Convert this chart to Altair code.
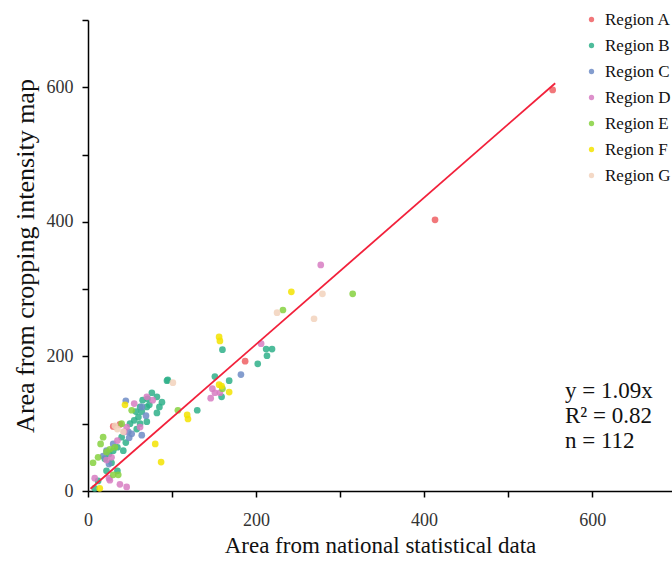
import altair as alt
import pandas as pd

regions = ["Region A", "Region B", "Region C", "Region D", "Region E", "Region F", "Region G"]
colors = ["#ef5f63", "#2fb08a", "#6f8cc6", "#d77cc2", "#86d13f", "#f3e300", "#f2d2bc"]

a_x = [553, 413, 187, 38, 30]
a_y = [596, 403, 193, 99, 96]

b_x = [95, 76, 71, 82, 88, 82, 62, 70, 160, 212, 219, 213, 202, 151, 168, 159, 130, 94, 57, 64,
       60, 55, 50, 62, 58, 70, 40, 45, 35, 30, 42, 25, 20, 28, 35, 8, 12, 65, 73, 85, 22]
b_y = [165, 146, 137, 140, 132, 116, 125, 125, 210, 211, 211, 201, 189, 170, 164, 140, 120, 164, 118, 118,
       110, 105, 100, 100, 92, 103, 80, 72, 65, 60, 60, 55, 48, 42, 30, 4, 15, 135, 128, 125, 30]

c_x = [182, 45, 64, 48, 52, 49, 64, 69, 22, 18, 25, 30]
c_y = [173, 134, 83, 88, 85, 79, 125, 112, 60, 52, 40, 70]

d_x = [277, 206, 148, 151, 146, 157, 70, 77, 46, 43, 62, 8, 25, 26, 38, 46, 22, 28, 35, 55]
d_y = [336, 219, 152, 146, 138, 146, 140, 135, 95, 88, 95, 19, 19, 16, 10, 6, 46, 50, 75, 130]

e_x = [315, 232, 107, 52, 6, 18, 15, 22, 30, 36, 26, 40, 12, 32, 160]
e_y = [293, 269, 120, 120, 42, 80, 70, 58, 24, 24, 62, 100, 50, 65, 152]

f_x = [242, 156, 157, 156, 159, 168, 118, 119, 80, 87, 44, 14]
f_y = [296, 229, 223, 158, 156, 147, 113, 107, 70, 43, 128, 4]

g_x = [269, 279, 101, 32, 35, 225, 42]
g_y = [256, 293, 161, 97, 92, 265, 88]

line_x = [3, 556]
slope = 1.09
annot = ["y = 1.09x", "R\u00b2 = 0.82", "n = 112"]

rows = []
for name, xs, ys in zip(regions, [a_x, b_x, c_x, d_x, e_x, f_x, g_x], [a_y, b_y, c_y, d_y, e_y, f_y, g_y]):
    for xv, yv in zip(xs, ys):
        rows.append({"x": xv, "y": yv, "region": name})
df = pd.DataFrame(rows)

FONT = "Liberation Serif"

x_axis = alt.Axis(values=list(range(0, 701, 100)),
                  labelExpr="datum.value % 200 == 0 ? datum.label : ''",
                  grid=False, domainColor="black", domainWidth=1.5, tickColor="black",
                  tickWidth=1.5, tickSize=6, labelFont=FONT, labelFontSize=18, labelColor="#333",
                  labelFlush=False, labelPadding=14,
                  title="Area from national statistical data", titleFont=FONT, titleFontSize=23,
                  titleFontWeight="normal", titleColor="#111", titlePadding=5)
y_axis = alt.Axis(values=list(range(0, 701, 100)),
                  labelExpr="datum.value % 200 == 0 ? datum.label : ''",
                  grid=False, domainColor="black", domainWidth=1.5, tickColor="black",
                  tickWidth=1.5, tickSize=6, labelFont=FONT, labelFontSize=18, labelColor="#333",
                  labelPadding=9,
                  title="Area from cropping intensity map", titleFont=FONT, titleFontSize=26,
                  titleFontWeight="normal", titleColor="#111", titlePadding=8)

xs = alt.Scale(domain=[0, 695], nice=False)
ys = alt.Scale(domain=[0, 700], nice=False)

points = alt.Chart(df).mark_circle(size=45, opacity=0.85).encode(
    x=alt.X("x:Q", scale=xs, axis=x_axis),
    y=alt.Y("y:Q", scale=ys, axis=y_axis),
    color=alt.Color("region:N", scale=alt.Scale(domain=regions, range=colors),
                    legend=alt.Legend(title=None, orient="none", legendX=495, legendY=-9,
                                      labelFont=FONT, labelFontSize=17, labelColor="#111",
                                      symbolType="circle", symbolSize=28, symbolStrokeWidth=0,
                                      rowPadding=8, labelOffset=5, padding=0)),
)

line = alt.Chart(pd.DataFrame({"x": line_x})).transform_calculate(
    y=f"{slope}*datum.x"
).mark_line(color="#f2213b", strokeWidth=1.8).encode(
    x=alt.X("x:Q", scale=xs), y=alt.Y("y:Q", scale=ys)
)

texts = []
for i, t in enumerate(annot):
    texts.append(
        alt.Chart(pd.DataFrame({"t": [t]})).mark_text(
            align="left", baseline="middle", font=FONT, fontSize=23, color="#111"
        ).encode(text="t:N", x=alt.value(477), y=alt.value(371 + i * 25))
    )

chart = alt.layer(points, line, *texts).properties(
    width=584, height=471,
    autosize=alt.AutoSizeParams(type="none"),
    padding={"left": 88, "top": 20, "right": 0, "bottom": 70},
    background="white",
).configure_view(stroke=None)

chart.save("out.html", embed_options={"renderer": "svg", "actions": False})
